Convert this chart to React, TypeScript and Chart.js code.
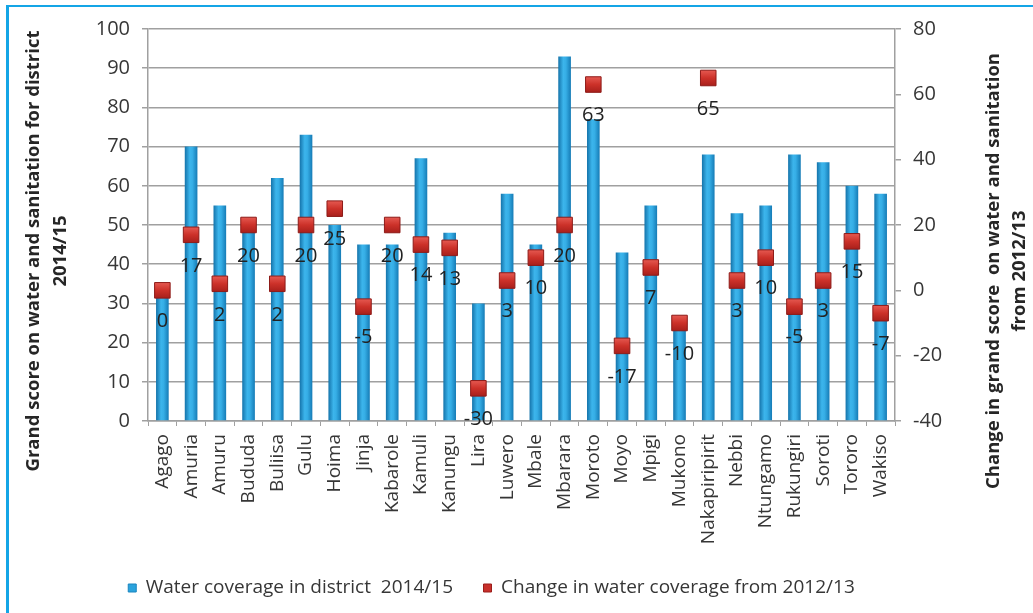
import React, { useEffect, useRef } from "react";
import { Chart, registerables } from "chart.js";

Chart.register(...registerables);

// Districts along the category axis
const districts = [
  "Agago", "Amuria", "Amuru", "Bududa", "Buliisa", "Gulu", "Hoima", "Jinja",
  "Kabarole", "Kamuli", "Kanungu", "Lira", "Luwero", "Mbale", "Mbarara",
  "Moroto", "Moyo", "Mpigi", "Mukono", "Nakapiripirit", "Nebbi", "Ntungamo",
  "Rukungiri", "Soroti", "Tororo", "Wakiso",
];

// Grand score on water and sanitation, 2014/15 (left axis)
const coverage2014 = [
  33, 70, 55, 49, 62, 73, 50, 45, 45, 67, 48, 30, 58, 45, 93,
  77, 43, 55, 25, 68, 53, 55, 68, 66, 60, 58,
];

// Change in grand score since 2012/13 (right axis)
const change2012 = [
  0, 17, 2, 20, 2, 20, 25, -5, 20, 14, 13, -30, 3, 10, 20,
  63, -17, 7, -10, 65, 3, 10, -5, 3, 15, -7,
];

const leftAxis = { min: 0, max: 100, step: 10 };
const rightAxis = { min: -40, max: 80, step: 20 };

const seriesNames = [
  "Water coverage in district  2014/15",
  "Change in water coverage from 2012/13",
];

const leftTitle = ["Grand score on water and sanitation for district", "2014/15"];
const rightTitle = ["Change in grand score  on water and sanitation", "from 2012/13"];

const FONT = '"Open Sans", "DejaVu Sans", sans-serif';
const TEXT = "#363636";
const GRID = "#a0a0a0";

// Value labels under each change marker
const markerLabels = {
  id: "markerLabels",
  afterDatasetsDraw(chart: any) {
    const meta = chart.getDatasetMeta(1);
    const ctx = chart.ctx;
    ctx.save();
    ctx.font = `20px ${FONT}`;
    ctx.fillStyle = "#222222";
    ctx.textAlign = "center";
    ctx.textBaseline = "middle";
    meta.data.forEach((pt: any, i: number) => {
      ctx.fillText(String(change2012[i]), pt.x, pt.y + 31);
    });
    ctx.restore();
  },
};

// Two-line rotated axis titles on both sides
const sideTitles = {
  id: "sideTitles",
  afterDraw(chart: any) {
    const ctx = chart.ctx;
    const draw = (lines: string[], xs: number[], cy: number) => {
      lines.forEach((line, i) => {
        ctx.save();
        ctx.translate(xs[i], cy);
        ctx.rotate(-Math.PI / 2);
        ctx.font = `bold 18.5px ${FONT}`;
        ctx.fillStyle = "#262626";
        ctx.textAlign = "center";
        ctx.textBaseline = "middle";
        ctx.fillText(line, 0, 0);
        ctx.restore();
      });
    };
    draw(leftTitle, [34, 61], 251);
    draw(rightTitle, [994, 1020], 271);
  },
};

export default function App() {
  const canvasRef = useRef<HTMLCanvasElement | null>(null);

  useEffect(() => {
    const canvas = canvasRef.current;
    if (!canvas) return;

    const barFill = (c: any) => {
      const xs = c.chart.scales?.x;
      if (!xs || c.type !== "data") return "#2aa3dd";
      const cx = xs.getPixelForValue(c.dataIndex);
      if (!Number.isFinite(cx)) return "#2aa3dd";
      const g = c.chart.ctx.createLinearGradient(cx - 6.5, 0, cx + 6.5, 0);
      g.addColorStop(0, "#1371a8");
      g.addColorStop(0.4, "#3cb5ec");
      g.addColorStop(0.6, "#36aee6");
      g.addColorStop(1, "#1479b4");
      return g;
    };

    const markerFill = (c: any) => {
      const ys = c.chart.scales?.y1;
      if (!ys || c.type !== "data") return "#c8302b";
      const cy = ys.getPixelForValue(change2012[c.dataIndex]);
      if (!Number.isFinite(cy)) return "#c8302b";
      const g = c.chart.ctx.createLinearGradient(0, cy - 8, 0, cy + 8);
      g.addColorStop(0, "#e65a52");
      g.addColorStop(0.5, "#cc3129");
      g.addColorStop(1, "#a71f1b");
      return g;
    };

    const chart = new Chart(canvas, {
      data: {
        labels: districts,
        datasets: [
          {
            type: "bar",
            label: seriesNames[0],
            data: coverage2014,
            yAxisID: "y",
            backgroundColor: barFill,
            borderWidth: 0,
            barPercentage: 0.44,
            categoryPercentage: 1,
            order: 2,
          },
          {
            type: "line",
            label: seriesNames[1],
            data: change2012,
            yAxisID: "y1",
            showLine: false,
            pointStyle: "rect",
            pointRadius: 11,
            pointHoverRadius: 11,
            backgroundColor: markerFill,
            borderColor: "#8e1b18",
            borderWidth: 1,
            order: 1,
          },
        ],
      } as any,
      options: {
        responsive: false,
        animation: false,
        devicePixelRatio: 1,
        layout: { padding: { top: 29, left: 0, right: 50, bottom: 5.5 } },
        plugins: {
          tooltip: { enabled: false },
          legend: {
            position: "bottom",
            labels: {
              font: { family: FONT, size: 19 },
              color: TEXT,
              boxWidth: 8,
              boxHeight: 8,
              padding: 30.5,
              generateLabels: () => [
                {
                  text: seriesNames[0],
                  fillStyle: "#2aa3dd",
                  strokeStyle: "#1a85bf",
                  lineWidth: 1,
                  hidden: false,
                  datasetIndex: 0,
                  fontColor: TEXT,
                },
                {
                  text: seriesNames[1],
                  fillStyle: "#c8302b",
                  strokeStyle: "#9a1d1a",
                  lineWidth: 1,
                  hidden: false,
                  datasetIndex: 1,
                  fontColor: TEXT,
                },
              ],
            },
          },
        },
        scales: {
          x: {
            type: "category",
            offset: true,
            afterFit: (s: any) => {
              s.height = 127;
            },
            grid: {
              display: true,
              drawOnChartArea: false,
              drawTicks: true,
              tickLength: 5,
              color: GRID,
              offset: true,
            },
            border: { display: true, color: GRID, width: 1.5 },
            ticks: {
              autoSkip: false,
              minRotation: 90,
              maxRotation: 90,
              padding: 8,
              color: TEXT,
              font: { family: FONT, size: 19 },
            },
          },
          y: {
            type: "linear",
            position: "left",
            min: leftAxis.min,
            max: leftAxis.max,
            afterFit: (s: any) => {
              s.width = 148;
            },
            grid: {
              color: GRID,
              lineWidth: 1.5,
              drawTicks: true,
              tickLength: 6,
            },
            border: { display: true, color: GRID, width: 1.5 },
            ticks: {
              stepSize: leftAxis.step,
              padding: 12,
              color: TEXT,
              font: { family: FONT, size: 20 },
            },
          },
          y1: {
            type: "linear",
            position: "right",
            min: rightAxis.min,
            max: rightAxis.max,
            afterFit: (s: any) => {
              s.width = 88;
            },
            grid: {
              drawOnChartArea: false,
              color: GRID,
              lineWidth: 1.5,
              drawTicks: true,
              tickLength: 6,
            },
            border: { display: true, color: GRID, width: 1.5 },
            ticks: {
              stepSize: rightAxis.step,
              padding: 12,
              color: TEXT,
              font: { family: FONT, size: 20 },
            },
          },
        },
      } as any,
      plugins: [markerLabels, sideTitles],
    });

    return () => chart.destroy();
  }, []);

  return (
    <div
      style={{
        position: "absolute",
        left: 0,
        top: 0,
        width: 1033,
        height: 613,
        background: "#ffffff",
        overflow: "hidden",
      }}
    >
      <div
        style={{
          position: "absolute",
          left: 6,
          top: 5,
          right: -10,
          bottom: -10,
          borderLeft: "3px solid #14a5e6",
          borderTop: "2px solid #14a5e6",
        }}
      />
      <canvas
        ref={canvasRef}
        width={1033}
        height={613}
        style={{ position: "absolute", left: 0, top: 0, width: 1033, height: 613 }}
      />
    </div>
  );
}
